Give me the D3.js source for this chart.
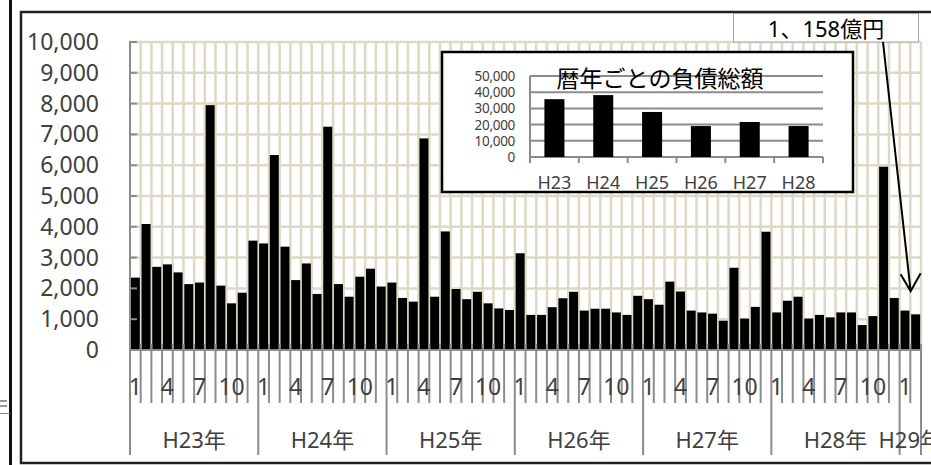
<!DOCTYPE html>
<html>
<head>
<meta charset="utf-8">
<script src="https://cdn.jsdelivr.net/npm/d3@7"></script>
<style>
	html, body { margin: 0; padding: 0; background: #fff; overflow: hidden; }
	svg { display: block; font-family: "Noto Sans", "Noto Sans CJK JP", sans-serif; }
	.grid line { stroke: #ddd9c4; stroke-width: 2.5; }
	.axis line { stroke: #8c8c8c; stroke-width: 2; }
	.lbl { fill: #404040; }
</style>
</head>
<body>
<svg width="931" height="465"></svg>
<script>

// monthly totals (億円), H23/1 .. H29/2
var yearNames = ['H23年', 'H24年', 'H25年', 'H26年', 'H27年', 'H28年', 'H29年'];
var monthsPerYear = [12, 12, 12, 12, 12, 12, 2];
var monthlyValues = [
	2350, 4090, 2700, 2780, 2520, 2140, 2190, 7950, 2090, 1515, 1860, 3550,
	3460, 6330, 3355, 2270, 2810, 1820, 7250, 2140, 1730, 2380, 2640, 2060,
	2190, 1690, 1570, 6870, 1730, 3850, 1980, 1650, 1890, 1515, 1350, 1300,
	3140, 1140, 1140, 1390, 1680, 1890, 1280, 1340, 1340, 1220, 1140, 1760,
	1650, 1470, 2220, 1900, 1280, 1220, 1180, 950, 2670, 1020, 1400, 3840,
	1220, 1600, 1730, 1020, 1140, 1060, 1220, 1220, 810, 1100, 5950, 1690,
	1280, 1158
];
var yTicks = [0, 1000, 2000, 3000, 4000, 5000, 6000, 7000, 8000, 9000, 10000];
var shownMonths = [1, 4, 7, 10];

// inset: yearly totals
var insetYears = ['H23', 'H24', 'H25', 'H26', 'H27', 'H28'];
var insetValues = [35700, 38200, 27800, 19100, 21600, 19100];
var insetTicks = [0, 10000, 20000, 30000, 40000, 50000];
var insetTitle = '暦年ごとの負債総額';
var noteText = '1、158億円';

var svg = d3.select('svg');
var fmt = d3.format(',');

// build month categories
var cats = [];
monthsPerYear.forEach(function (n, yi) {
	for (var m = 1; m <= n; m++) cats.push({ year: yi, month: m });
});
cats.forEach(function (c, i) { c.i = i; c.value = monthlyValues[i]; });

var X0 = 130, X1 = 921, Y0 = 350, YT = 42;

var x = d3.scaleBand()
	.domain(cats.map(function (c) { return c.i; }))
	.range([X0, X1])
	.paddingInner(0.16)
	.paddingOuter(0.08);
var step = x.step();
function edge(k) { return X0 + k * step; }

var y = d3.scaleLinear()
	.domain([0, 10000])
	.range([Y0, YT]);

// outer frames
svg.append('line')
	.attr('x1', 10.5).attr('x2', 10.5).attr('y1', 0).attr('y2', 465)
	.attr('stroke', '#111').attr('stroke-width', 3);
svg.append('path')
	.attr('d', 'M0 401 H7 M0 406 H7')
	.attr('stroke', '#333').attr('stroke-width', 1.2);
svg.append('line')
	.attr('x1', 0).attr('x2', 10).attr('y1', 413.5).attr('y2', 413.5)
	.attr('stroke', '#888').attr('stroke-width', 1);
svg.append('rect')
	.attr('x', 21).attr('y', 12).attr('width', 940).attr('height', 451)
	.attr('fill', '#fff').attr('stroke', '#222').attr('stroke-width', 2.5);

// grid
var grid = svg.append('g').attr('class', 'grid');
grid.selectAll('line.h')
	.data(yTicks.slice(1))
	.enter().append('line')
	.attr('class', 'h')
	.attr('x1', X0).attr('x2', X1)
	.attr('y1', function (d) { return y(d); })
	.attr('y2', function (d) { return y(d); });
grid.selectAll('line.v')
	.data(d3.range(1, cats.length + 1))
	.enter().append('line')
	.attr('class', 'v')
	.attr('x1', edge).attr('x2', edge)
	.attr('y1', YT).attr('y2', Y0);

// bars
svg.append('g')
	.selectAll('rect')
	.data(cats)
	.enter().append('rect')
	.attr('x', function (d) { return x(d.i); })
	.attr('width', x.bandwidth())
	.attr('y', function (d) { return y(d.value); })
	.attr('height', function (d) { return Y0 - y(d.value); })
	.attr('fill', '#000');

// axes
var axis = svg.append('g').attr('class', 'axis');
axis.append('line')
	.attr('x1', X0).attr('x2', X0).attr('y1', YT - 1).attr('y2', Y0);
axis.append('line')
	.attr('x1', X0).attr('x2', X1).attr('y1', Y0).attr('y2', Y0);
axis.selectAll('line.yt')
	.data(yTicks)
	.enter().append('line')
	.attr('class', 'yt')
	.attr('x1', X0).attr('x2', X0 + 7)
	.attr('y1', function (d) { return y(d); })
	.attr('y2', function (d) { return y(d); });

var yearStart = [0];
monthsPerYear.forEach(function (n, i) { yearStart.push(yearStart[i] + n); });

axis.selectAll('line.xt')
	.data(d3.range(0, cats.length + 1))
	.enter().append('line')
	.attr('class', 'xt')
	.attr('x1', edge).attr('x2', edge)
	.attr('y1', Y0 - 6)
	.attr('y2', function (k) { return yearStart.indexOf(k) >= 0 ? 455 : 403; });

svg.append('g')
	.selectAll('text')
	.data(yTicks)
	.enter().append('text')
	.attr('class', 'lbl')
	.attr('x', 99)
	.attr('y', function (d) { return y(d) + 8; })
	.attr('text-anchor', 'end')
	.attr('font-size', 23)
	.text(fmt);

svg.append('g')
	.selectAll('text')
	.data(cats.filter(function (c) { return shownMonths.indexOf(c.month) >= 0; }))
	.enter().append('text')
	.attr('class', 'lbl')
	.attr('x', function (d) { return x(d.i) + x.bandwidth() / 2; })
	.attr('y', 395)
	.attr('text-anchor', 'middle')
	.attr('font-size', 23)
	.text(function (d) { return d.month; });

svg.append('g')
	.selectAll('text')
	.data(yearNames)
	.enter().append('text')
	.attr('class', 'lbl')
	.attr('x', function (d, i) { return (edge(yearStart[i]) + edge(yearStart[i + 1])) / 2; })
	.attr('y', 448)
	.attr('text-anchor', 'middle')
	.attr('font-size', 22)
	.text(function (d) { return d; });

// inset chart
var inset = svg.append('g');
inset.append('rect')
	.attr('x', 442).attr('y', 52).attr('width', 411).attr('height', 140)
	.attr('fill', '#fff').attr('stroke', '#000').attr('stroke-width', 2.5);

var ix = d3.scaleBand()
	.domain(insetYears)
	.range([530, 823])
	.paddingInner(0.59)
	.paddingOuter(0.295);
var iy = d3.scaleLinear()
	.domain([0, 50000])
	.range([157, 76]);

inset.selectAll('line.g')
	.data(insetTicks)
	.enter().append('line')
	.attr('x1', 530).attr('x2', 823)
	.attr('y1', function (d) { return iy(d); })
	.attr('y2', function (d) { return iy(d); })
	.attr('stroke', '#8c8c8c').attr('stroke-width', 2);
inset.append('line')
	.attr('x1', 530).attr('x2', 530).attr('y1', iy(50000)).attr('y2', 163)
	.attr('stroke', '#8c8c8c').attr('stroke-width', 2);
inset.selectAll('line.t')
	.data(d3.range(1, insetYears.length + 1))
	.enter().append('line')
	.attr('x1', function (k) { return 530 + k * ix.step(); })
	.attr('x2', function (k) { return 530 + k * ix.step(); })
	.attr('y1', 157).attr('y2', 163)
	.attr('stroke', '#8c8c8c').attr('stroke-width', 2);

inset.append('text')
	.attr('x', 660)
	.attr('y', 87)
	.attr('text-anchor', 'middle')
	.attr('font-size', 23)
	.attr('font-family', '"Noto Sans CJK JP", sans-serif')
	.attr('fill', '#000')
	.text(insetTitle);

inset.selectAll('rect.bar')
	.data(insetValues)
	.enter().append('rect')
	.attr('class', 'bar')
	.attr('x', function (d, i) { return ix(insetYears[i]); })
	.attr('width', ix.bandwidth())
	.attr('y', function (d) { return iy(d); })
	.attr('height', function (d) { return 157 - iy(d); })
	.attr('fill', '#000');

inset.selectAll('text.yl')
	.data(insetTicks)
	.enter().append('text')
	.attr('class', 'lbl')
	.attr('x', 515)
	.attr('y', function (d) { return iy(d) + 5; })
	.attr('text-anchor', 'end')
	.attr('font-size', 13.5)
	.attr('letter-spacing', -0.3)
	.text(fmt);

inset.selectAll('text.xl')
	.data(insetYears)
	.enter().append('text')
	.attr('class', 'lbl')
	.attr('x', function (d) { return ix(d) + ix.bandwidth() / 2; })
	.attr('y', 189)
	.attr('text-anchor', 'middle')
	.attr('font-size', 18)
	.text(function (d) { return d; });

// callout for the last month
var last = cats[cats.length - 1];
var tipX = x(last.i) + x.bandwidth() / 2 - 5, tipY = y(last.value) - 23;
svg.append('rect')
	.attr('x', 733.5).attr('y', 13.5).attr('width', 185).attr('height', 28.5)
	.attr('fill', '#fff').attr('stroke', '#a6a6a6').attr('stroke-width', 1);
svg.append('text')
	.attr('x', 826)
	.attr('y', 37)
	.attr('text-anchor', 'middle')
	.attr('font-size', 22)
	.attr('fill', '#000')
	.text(noteText);
svg.append('path')
	.attr('d', 'M883 42 L' + tipX + ' ' + tipY +
		' M' + (tipX - 10) + ' ' + (tipY - 17) + ' L' + tipX + ' ' + tipY + ' L' + (tipX + 10) + ' ' + (tipY - 18))
	.attr('fill', 'none')
	.attr('stroke', '#000')
	.attr('stroke-width', 2);

</script>
</body>
</html>
